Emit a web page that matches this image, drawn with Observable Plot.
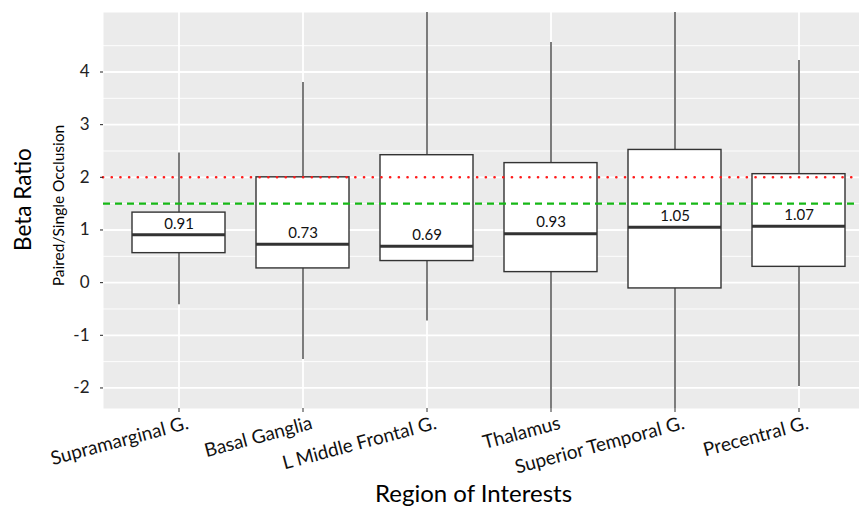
<!DOCTYPE html>
<html>
<head>
<meta charset="utf-8">
<script src="https://cdn.jsdelivr.net/npm/d3@7"></script>
<script src="https://cdn.jsdelivr.net/npm/@observablehq/plot@0.6"></script>
<style>
  html, body { margin: 0; padding: 0; background: white; }
</style>
</head>
<body>
<div id="chart"></div>
<script>
const regions = ["Supramarginal G.", "Basal Ganglia", "L Middle Frontal G.", "Thalamus", "Superior Temporal G.", "Precentral G."];
const lower  = [-0.42, -1.46, -0.73, -2.7, -2.7, -1.97];
const q1     = [0.56, 0.27, 0.41, 0.20, -0.11, 0.30];
const median = [0.91, 0.73, 0.69, 0.93, 1.05, 1.07];
const q3     = [1.33, 2.00, 2.42, 2.27, 2.52, 2.06];
const upper  = [2.46, 3.80, 5.6, 4.56, 5.6, 4.22];
const yTicks = [-2, -1, 0, 1, 2, 3, 4];
const yMinor = [-1.5, -0.5, 0.5, 1.5, 2.5, 3.5, 4.5];
const refRed = [2];
const refGreen = [1.5];

const data = regions.map((r, i) => ({region: r, lower: lower[i], q1: q1[i], median: median[i], q3: q3[i], upper: upper[i]}));

const chart = Plot.plot({
  width: 859,
  height: 509,
  marginLeft: 103,
  marginTop: 12,
  marginBottom: 101,
  marginRight: 0,
  style: {fontFamily: "Lato, sans-serif", background: "white"},
  x: {type: "band", domain: regions, range: [103, 873], paddingInner: 0.25, paddingOuter: 0.225, axis: null},
  y: {domain: [-2.39, 5.13], axis: null},
  marks: [
    Plot.frame({fill: "#ebebeb"}),
    Plot.gridY(yMinor, {stroke: "white", strokeOpacity: 1, strokeWidth: 0.9}),
    Plot.gridY(yTicks, {stroke: "white", strokeOpacity: 1, strokeWidth: 1.8}),
    Plot.gridX(regions, {stroke: "white", strokeOpacity: 1, strokeWidth: 1.8}),
    Plot.ruleX(data, {x: "region", y1: "lower", y2: "upper", stroke: "#444", strokeWidth: 1.4, clip: true}),
    Plot.barY(data, {x: "region", y1: "q1", y2: "q3", fill: "white", stroke: "#333", strokeWidth: 1.4}),
    Plot.tickY(data, {x: "region", y: "median", stroke: "#333", strokeWidth: 3}),
    Plot.text(data, {x: "region", y: "median", text: d => d.median.toFixed(2), dy: -11, fontSize: 15, fill: "#111"}),
    Plot.ruleY(refRed, {stroke: "#ff1a1a", strokeWidth: 2.6, strokeDasharray: "0.1,8.6", strokeLinecap: "round"}),
    Plot.ruleY(refGreen, {stroke: "#16b816", strokeWidth: 2.2, strokeDasharray: "7,5"}),
    Plot.axisY(yTicks, {anchor: "left", tickSize: 3, tickPadding: 11, fontSize: 17, color: "#222", tickFormat: d => String(d), label: null}),
    Plot.axisX(regions, {anchor: "bottom", tickSize: 4, tickFormat: () => "", label: null, color: "#333"}),
    Plot.text(regions, {x: d => d, frameAnchor: "bottom", text: d => d, rotate: -15, textAnchor: "end", lineAnchor: "top", dx: 7, dy: 7, fontSize: 19, fill: "#111"}),
    Plot.text(["Beta Ratio"], {frameAnchor: "left", text: d => d, rotate: -90, textAnchor: "middle", lineAnchor: "middle", dx: -80, dy: -11, fontSize: 22.5, fill: "#000"}),
    Plot.text(["Paired/Single Occlusion"], {frameAnchor: "left", text: d => d, rotate: -90, textAnchor: "middle", lineAnchor: "middle", dx: -44, dy: -5, fontSize: 15.5, fill: "#000"}),
    Plot.text(["Region of Interests"], {frameAnchor: "bottom", text: d => d, textAnchor: "middle", lineAnchor: "middle", dx: -8, dy: 86, fontSize: 24, fill: "#000"})
  ]
});
document.getElementById("chart").appendChild(chart);
</script>
</body>
</html>
